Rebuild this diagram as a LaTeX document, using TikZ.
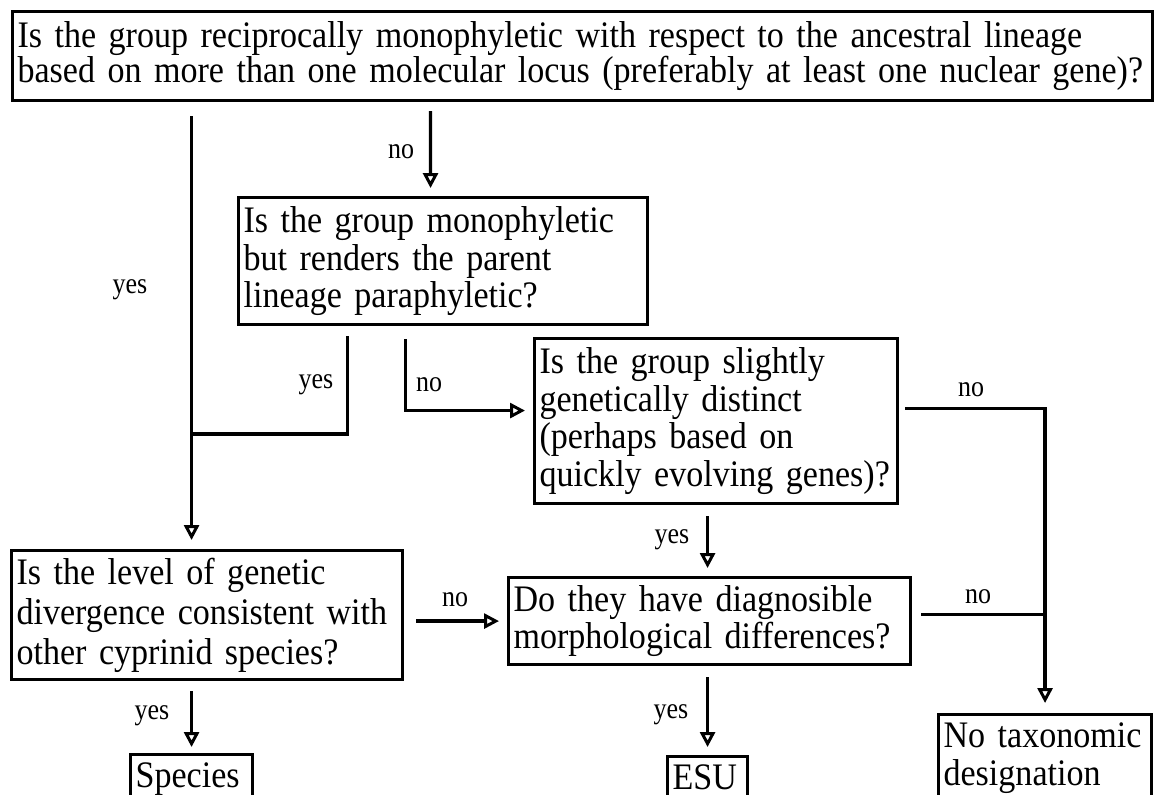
\documentclass[tikz,border=0pt]{standalone}
\usepackage{fontspec}
\setmainfont[FakeStretch=0.91]{Liberation Serif}
\newfontfamily\answerfont[FakeStretch=0.88]{Liberation Serif}
\usetikzlibrary{arrows.meta}

\begin{document}
\begin{tikzpicture}[x=0.02cm,y=-0.02cm,
  question/.style={draw,line width=1.8pt,anchor=north west,align=left,inner xsep=0.1cm,inner ysep=0pt,font=\fontsize{21.3}{21.5}\selectfont},
  outcome/.style={draw,line width=1.8pt,anchor=north west,align=left,inner xsep=0.1cm,inner ysep=4.5pt,font=\fontsize{21.3}{21.5}\selectfont},
  answer/.style={inner sep=0pt,font=\answerfont\fontsize{16.8}{18}\selectfont},
  link/.style={line width=1.8pt},
  arr/.style={link,-{Triangle[open,length=8.5pt,width=8.5pt,line width=1.7pt]}}]
\useasboundingbox (0,0) rectangle (1154,795);
\fill[white] (0,0) rectangle (1154,795);
\clip (0,0) rectangle (1154,795);
% questions
\node[question,text width=22.6cm,minimum height=1.78cm,font=\fontsize{21.3}{19.8}\selectfont] (q1) at (11,10)
  {Is the group reciprocally monophyletic with respect to the ancestral lineage\\
   based on more than one molecular locus (preferably at least one nuclear gene)?};
\node[question,text width=7.98cm,minimum height=2.54cm] (q2) at (237,196)
  {Is the group monophyletic\\but renders the parent\\lineage paraphyletic?};
\node[question,text width=7.06cm,minimum height=3.3cm] (q3) at (533,337)
  {Is the group slightly\\genetically distinct\\(perhaps based on\\quickly evolving genes)?};
\node[question,text width=7.84cm,minimum height=1.74cm] (q4) at (507,576)
  {Do they have diagnosible\\morphological differences?};
\node[question,text width=7.62cm,minimum height=2.58cm,font=\fontsize{21.3}{22.7}\selectfont] (q5) at (10,549)
  {Is the level of genetic\\divergence consistent with\\other cyprinid species?};
% outcomes
\node[outcome,text width=2.24cm] (r1) at (129,753) {Species};
\node[outcome,text width=1.4cm] (r2) at (666,755) {ESU};
\node[outcome,text width=4.06cm] (r3) at (937,713) {No taxonomic\\designation};
% junctions
\coordinate (j1) at (190,434);
\coordinate (j2) at ([yshift=0.13cm]q4.east);
% yes branches
\draw[arr,shorten <=0.28cm,shorten >=0.18cm] (q1.south -| r1.north) -- (q5.north -| r1.north);
\draw[link,shorten <=0.2cm] ([xshift=-1.91cm]q2.south) |- (j1);
\draw[arr,shorten <=0.22cm,shorten >=0.16cm] (q3.south -| r2.north) -- (q4.north -| r2.north);
\draw[arr,shorten <=0.2cm,shorten >=0.12cm] (q5.south -| r1.north) -- (r1.north);
\draw[arr,shorten <=0.22cm,shorten >=0.16cm] (q4.south -| r2.north) -- (r2.north);
% no branches
\draw[arr,shorten <=0.18cm,shorten >=0.16cm] ([xshift=-3.04cm]q1.south) -- ([xshift=-0.25cm]q2.north);
\draw[arr,shorten <=0.26cm,shorten >=0.16cm] ([xshift=-0.75cm]q2.south) |- ([yshift=0.21cm]q3.west);
\draw[arr,shorten <=0.12cm,shorten >=0.2cm] ([yshift=0.25cm]q3.east) -| (r3.north);
\draw[link,shorten <=0.18cm] (j2) -- (j2 -| r3.north);
\draw[arr,shorten <=0.24cm,shorten >=0.16cm] (q4.west -| q5.east) -- (q4.west);
% answers
\node[answer] (y1) at (130,290) {yes};
\node[answer] (y2) at (316,385) {yes};
\node[answer] (y3) at (672,540) {yes};
\node[answer] (y4) at (152,716) {yes};
\node[answer] (y5) at (671,715) {yes};
\node[answer] (n1) at (401,152) {no};
\node[answer] (n2) at (429,385) {no};
\node[answer] (n3) at (971,390) {no};
\node[answer] (n4) at (978,597) {no};
\node[answer] (n5) at (455,600) {no};
\end{tikzpicture}
\end{document}
